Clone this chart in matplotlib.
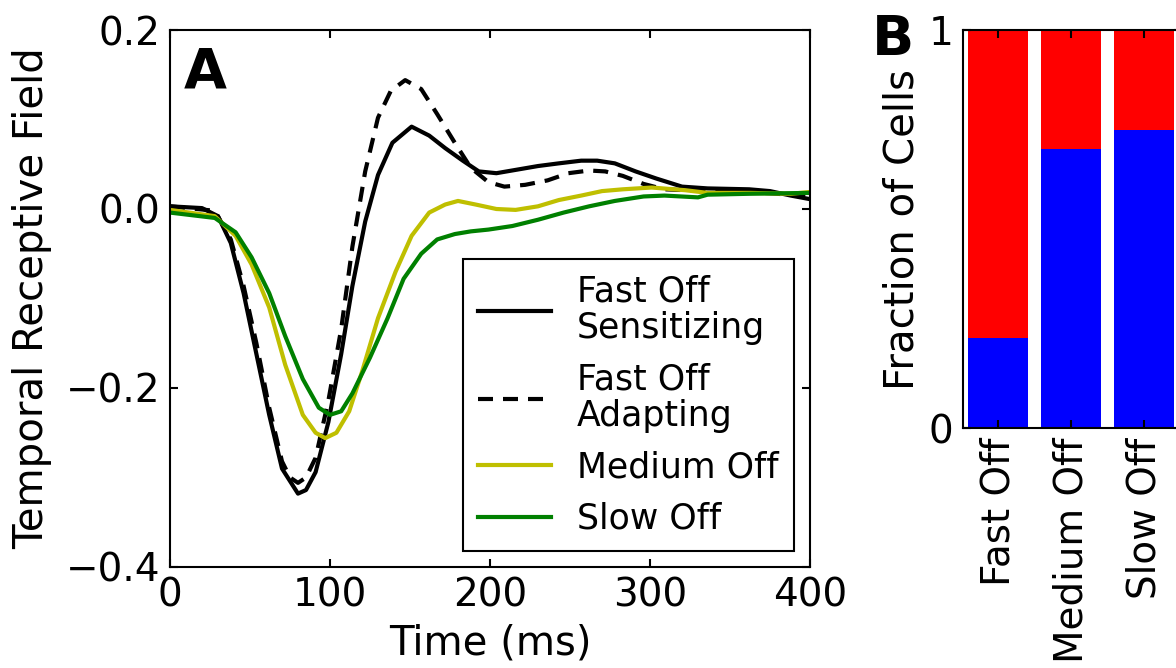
import matplotlib
matplotlib.use("Agg")
import matplotlib.pyplot as plt

# Panel A: temporal receptive fields (time in ms, filter value)
sens_t = [0, 20, 30, 38, 46, 54, 62, 70, 80, 85, 91, 99, 107, 114, 122, 130, 139, 151,
          162, 172, 183, 193, 204, 217, 230, 243, 257, 267, 278, 291, 304, 320, 336, 362,
          375, 388, 400]
sens_v = [0.003, 0.001, -0.008, -0.038, -0.094, -0.162, -0.230, -0.290, -0.318, -0.314,
          -0.294, -0.238, -0.162, -0.086, -0.014, 0.038, 0.074, 0.092, 0.082, 0.068, 0.054,
          0.042, 0.040, 0.044, 0.048, 0.051, 0.054, 0.054, 0.051, 0.042, 0.034, 0.025, 0.023,
          0.022, 0.020, 0.015, 0.011]

adapt_t = [0, 28, 38, 46, 54, 62, 70, 75, 80, 85, 91, 99, 107, 114, 122, 130, 138, 147,
           157, 167, 178, 188, 199, 209, 222, 236, 249, 262, 272, 283, 296, 309, 336, 362,
           388, 400]
adapt_v = [0.003, -0.002, -0.034, -0.086, -0.150, -0.222, -0.282, -0.300, -0.306, -0.300,
           -0.278, -0.214, -0.134, -0.042, 0.042, 0.102, 0.132, 0.144, 0.134, 0.106, 0.074,
           0.046, 0.030, 0.025, 0.027, 0.032, 0.040, 0.043, 0.042, 0.037, 0.028, 0.022,
           0.020, 0.019, 0.016, 0.013]

medium_t = [0, 28, 41, 51, 62, 72, 83, 91, 97, 104, 112, 120, 130, 141, 151, 162, 172, 180,
            191, 204, 216, 230, 243, 257, 270, 283, 301, 322, 336, 362, 388, 400]
medium_v = [-0.001, -0.008, -0.030, -0.062, -0.110, -0.174, -0.230, -0.250, -0.256, -0.250,
            -0.226, -0.182, -0.122, -0.070, -0.030, -0.004, 0.005, 0.009, 0.005, 0.000,
            -0.001, 0.003, 0.010, 0.015, 0.020, 0.022, 0.024, 0.021, 0.018, 0.018, 0.017,
            0.019]

slow_t = [0, 28, 41, 51, 62, 72, 83, 93, 100, 107, 114, 125, 136, 146, 157, 167, 178, 188,
          199, 214, 230, 246, 262, 278, 296, 309, 330, 336, 362, 400]
slow_v = [-0.004, -0.010, -0.026, -0.054, -0.094, -0.142, -0.190, -0.222, -0.230, -0.226,
          -0.206, -0.166, -0.122, -0.078, -0.050, -0.034, -0.028, -0.025, -0.023, -0.019,
          -0.012, -0.004, 0.003, 0.009, 0.014, 0.015, 0.013, 0.016, 0.017, 0.018]

# Panel B: fraction of cells per class
cell_types = ["Fast Off", "Medium Off", "Slow Off"]
frac_blue = [0.225, 0.70, 0.75]

TICK_FS = 28
LABEL_FS = 29
LEG_FS = 25
plt.rcParams["font.family"] = "DejaVu Sans"
plt.rcParams["axes.linewidth"] = 1.5

W, H = 1176, 668
fig = plt.figure(figsize=(W / 100, H / 100), dpi=100)


def px_axes(left, top, right, bottom):
    return fig.add_axes([left / W, 1 - bottom / H, (right - left) / W, (bottom - top) / H])


def style_ticks(ax):
    ax.tick_params(direction="in", length=6, width=1.5, top=True, right=True,
                   labelsize=TICK_FS, pad=7)


# ---- panel A
ax = px_axes(170, 30, 810, 567)
ax.plot(sens_t, sens_v, color="k", lw=3, label="Fast Off\nSensitizing")
ax.plot(adapt_t, adapt_v, color="k", lw=3, dashes=(3.6, 2.4), label="Fast Off\nAdapting")
ax.plot(medium_t, medium_v, color=(0.75, 0.75, 0), lw=3, label="Medium Off")
ax.plot(slow_t, slow_v, color=(0, 0.5, 0), lw=3, label="Slow Off")
ax.set_xlim(0, 400)
ax.set_ylim(-0.4, 0.2)
ax.set_xticks([0, 100, 200, 300, 400])
ax.set_yticks([-0.4, -0.2, 0.0, 0.2])
style_ticks(ax)
ax.set_xlabel("Time (ms)", fontsize=LABEL_FS, labelpad=6)
ax.set_ylabel("Temporal Receptive Field", fontsize=LABEL_FS, labelpad=10)
leg = ax.legend(loc="lower right", fontsize=LEG_FS, handlelength=2.1, handletextpad=0.75,
                borderaxespad=0.45, fancybox=False, framealpha=1, labelspacing=0.5,
                borderpad=0.45)
for txt in leg.get_texts():
    txt.set_linespacing(1.1)
leg.get_frame().set_edgecolor("k")
leg.get_frame().set_linewidth(1.5)
fig.text(184 / W, 1 - 88 / H, "A", fontsize=40, fontweight="bold", va="baseline")

# ---- panel B
bx = px_axes(963, 30, 1182, 428)
xs = range(len(cell_types))
red_part = [1 - f for f in frac_blue]
bx.bar(xs, frac_blue, width=0.82, color="b", edgecolor="none")
bx.bar(xs, red_part, bottom=frac_blue, width=0.82, color="r", edgecolor="none")
bx.set_xlim(-0.48, 2.52)
bx.set_ylim(0, 1)
bx.set_yticks([0, 1])
bx.set_yticklabels(["0", "1"])
bx.set_xticks(list(xs))
bx.set_xticklabels(cell_types, rotation=90)
style_ticks(bx)
bx.set_ylabel("Fraction of Cells", fontsize=LABEL_FS, labelpad=4)
fig.text(872 / W, 1 - 55 / H, "B", fontsize=40, fontweight="bold", va="baseline")

fig.savefig("out.png", dpi=100)
